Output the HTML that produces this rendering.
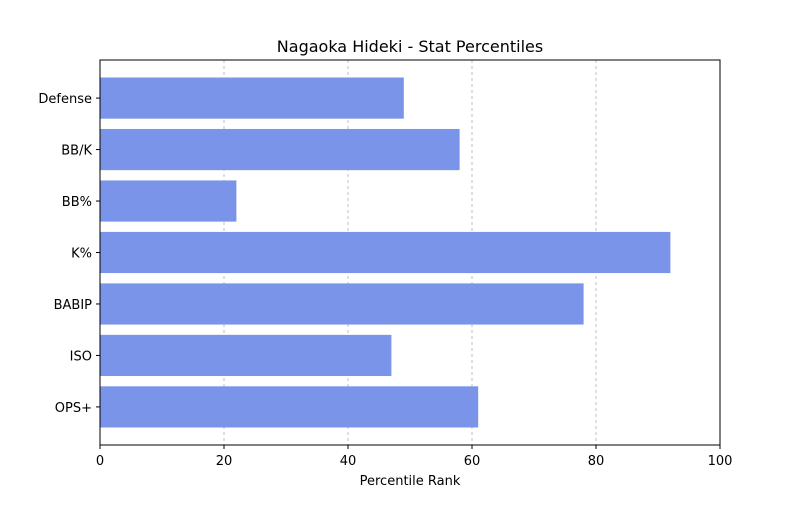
<!DOCTYPE html>
<html><head><meta charset="utf-8"><style>
body{margin:0;background:#fff;font-family:"Liberation Sans","DejaVu Sans",sans-serif;}
svg text{font-family:"DejaVu Sans","Liberation Sans",sans-serif;}
</style></head><body>
<svg id="chart" width="800" height="500" xmlns="http://www.w3.org/2000/svg">
<rect width="800" height="500" fill="#fff"/>
<text x="410" y="52" text-anchor="middle" font-size="16">Nagaoka Hideki - Stat Percentiles</text>
<g id="grid"></g><g id="bars"></g><g id="axes"></g>
<text x="410" y="485" text-anchor="middle" font-size="13">Percentile Rank</text>
</svg>
<script>
const categories=["Defense","BB/K","BB%","K%","BABIP","ISO","OPS+"];
const values=[49,58,22,92,78,47,61];
const xTicks=[0,20,40,60,80,100];
const L=100,R=720,T=60,B=445,NS="http://www.w3.org/2000/svg";
const n=categories.length,yMin=-0.4-0.034*(n-1)*10/ (n-1)*(n-1)/10,yPad=0.05*(n-1+0.8);
const y0=-0.4-yPad,y1=n-1+0.4+yPad;
function xs(v){return L+(v-0)/(100-0)*(R-L);}
function ys(i){return T+(i-y0)/(y1-y0)*(B-T);}
function mk(tag,a,p){const e=document.createElementNS(NS,tag);for(const k in a)e.setAttribute(k,a[k]);p.appendChild(e);return e;}
const g=document.getElementById('grid'),bg=document.getElementById('bars'),ax=document.getElementById('axes');
xTicks.forEach(t=>{
 if(t>0&&t<100){const l=mk('line',{x1:xs(t),x2:xs(t),y1:T,y2:B,stroke:'#b0b0b0','stroke-width':0.8,'stroke-dasharray':'3,3'},g);
 
 }
 const tk=mk('line',{x1:xs(t),x2:xs(t),y1:B,y2:B+4,stroke:'#000'},ax);
 
 
 const tx=mk('text',{x:xs(t),y:B+20,'text-anchor':'middle','font-size':13},ax);tx.textContent=t;
 
 
});
const bh=0.8*(ys(1)-ys(0));
categories.forEach((c,i)=>{
 const r=mk('rect',{x:xs(0),y:ys(i)-bh/2,width:xs(values[i])-xs(0),height:bh,fill:'#7994e8'},bg);
 
 
 const tk=mk('line',{x1:L-4,x2:L,y1:ys(i),y2:ys(i),stroke:'#000'},ax);
 
 
 const tx=mk('text',{x:L-8,y:ys(i)+5,'text-anchor':'end','font-size':13},ax);tx.textContent=c;
 
 
});
const fr=mk('rect',{x:L,y:T,width:R-L,height:B-T,fill:'none',stroke:'#000','stroke-width':1},ax);


</script>
</body></html>
